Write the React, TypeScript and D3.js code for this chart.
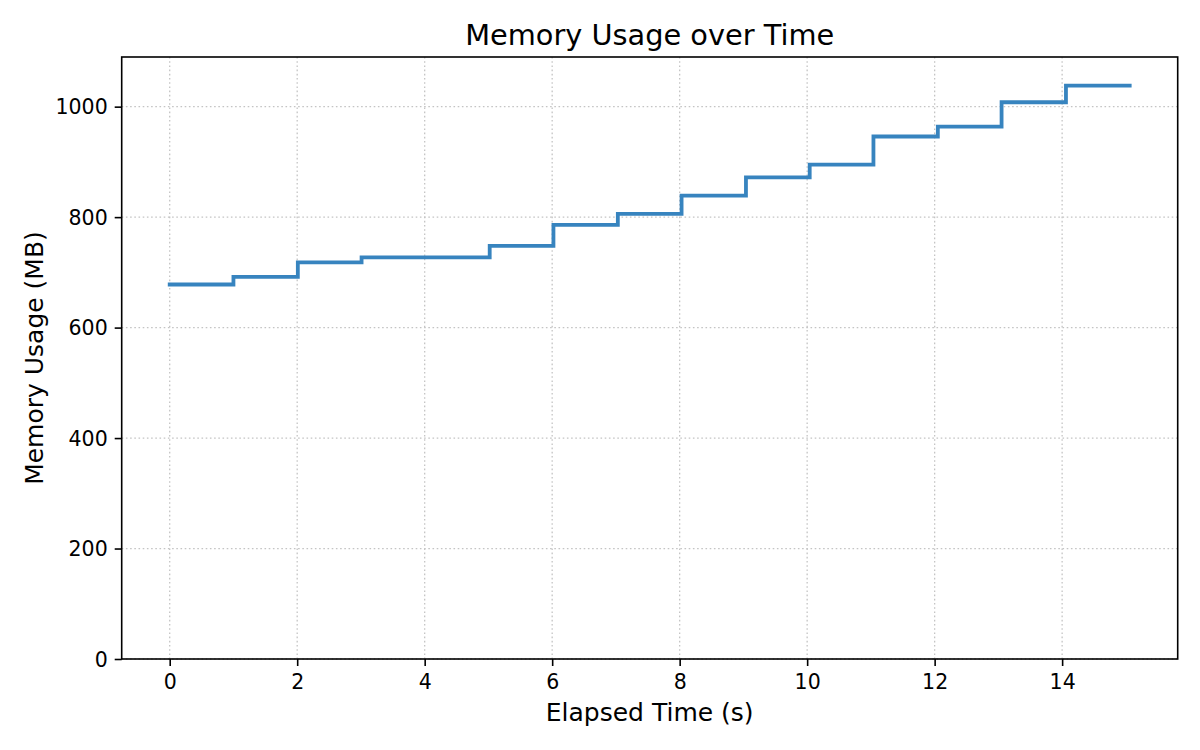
import React, { useRef, useEffect } from "react";
import * as d3 from "d3";

// elapsed time (s) of each sample and memory reading (MB)
const times = [0, 1.0, 2.01, 3.01, 4.02, 5.02, 6.02, 7.03, 8.03, 9.04, 10.04, 11.04, 12.05, 13.05, 14.06, 15.06];
const memory = [678, 692, 718, 727, 727, 748, 786, 806, 839, 872, 895, 946, 964, 1008, 1038, 1038];

const xTicks = [0, 2, 4, 6, 8, 10, 12, 14];
const yTicks = [0, 200, 400, 600, 800, 1000];

const title = "Memory Usage over Time";
const xLabel = "Elapsed Time (s)";
const yLabel = "Memory Usage (MB)";

const width = 1200;
const height = 750;
const margin = { top: 57, right: 22.3, bottom: 91, left: 121.7 };
const font = "DejaVu Sans, sans-serif";

const App: React.FC = () => {
  const gRef = useRef<SVGGElement | null>(null);

  useEffect(() => {
    if (!gRef.current) return;
    const g = d3.select(gRef.current);
    g.selectAll("*").remove();

    const innerWidth = width - margin.left - margin.right;
    const innerHeight = height - margin.top - margin.bottom;

    const xMin = d3.min(times)!;
    const xMax = d3.max(times)!;
    const pad = (xMax - xMin) * 0.05;

    const xScale = d3.scaleLinear().domain([xMin - pad, xMax + pad]).range([0, innerWidth]);
    const yScale = d3
      .scaleLinear()
      .domain([0, d3.max(memory)! * 1.05])
      .range([innerHeight, 0]);

    const chart = g.append("g").attr("transform", `translate(${margin.left},${margin.top})`);

    // dotted grid
    chart
      .selectAll(".vgrid")
      .data(xTicks)
      .join("line")
      .attr("class", "vgrid")
      .attr("x1", (d) => xScale(d))
      .attr("x2", (d) => xScale(d))
      .attr("y1", 0)
      .attr("y2", innerHeight)
      .attr("stroke", "#c4c4c4")
      .attr("stroke-width", 1.3)
      .attr("stroke-dasharray", "1.6,2.6");

    chart
      .selectAll(".hgrid")
      .data(yTicks)
      .join("line")
      .attr("class", "hgrid")
      .attr("x1", 0)
      .attr("x2", innerWidth)
      .attr("y1", (d) => yScale(d))
      .attr("y2", (d) => yScale(d))
      .attr("stroke", "#c4c4c4")
      .attr("stroke-width", 1.3)
      .attr("stroke-dasharray", "1.6,2.6");

    // step line
    const line = d3
      .line<number>()
      .x((d, i) => xScale(times[i]))
      .y((d) => yScale(d))
      .curve(d3.curveStepAfter);

    chart
      .append("path")
      .datum(memory)
      .attr("d", line)
      .attr("fill", "none")
      .attr("stroke", "#3784bf")
      .attr("stroke-width", 3.8)
      .attr("stroke-linecap", "square")
      .attr("stroke-linejoin", "miter");

    // axes
    const xAxis = d3.axisBottom(xScale).tickValues(xTicks).tickSize(7).tickPadding(7).tickSizeOuter(0);
    const yAxis = d3
      .axisLeft(yScale)
      .tickValues(yTicks)
      .tickFormat(d3.format("d"))
      .tickSize(7)
      .tickPadding(7)
      .tickSizeOuter(0);

    const xg = chart.append("g").attr("transform", `translate(0,${innerHeight})`).call(xAxis);
    const yg = chart.append("g").call(yAxis);

    [xg, yg].forEach((ax) => {
      ax.select(".domain").remove();
      ax.selectAll(".tick line").attr("stroke", "#000").attr("stroke-width", 1.6);
      ax.selectAll(".tick text")
        .attr("fill", "#000")
        .attr("font-family", font)
        .attr("font-size", 20.5);
    });
    xg.selectAll(".tick text").attr("dy", "0.78em");
    yg.selectAll(".tick text").attr("dy", "0.35em");

    // frame
    chart
      .append("rect")
      .attr("x", 0)
      .attr("y", 0)
      .attr("width", innerWidth)
      .attr("height", innerHeight)
      .attr("fill", "none")
      .attr("stroke", "#000")
      .attr("stroke-width", 1.6);

    // title and labels
    g.append("text")
      .attr("x", margin.left + innerWidth / 2)
      .attr("y", 45)
      .attr("text-anchor", "middle")
      .attr("font-family", font)
      .attr("font-size", 28.8)
      .text(title);

    g.append("text")
      .attr("x", margin.left + innerWidth / 2)
      .attr("y", 721)
      .attr("text-anchor", "middle")
      .attr("font-family", font)
      .attr("font-size", 25)
      .text(xLabel);

    g.append("text")
      .attr("transform", `translate(43,${margin.top + innerHeight / 2}) rotate(-90)`)
      .attr("text-anchor", "middle")
      .attr("font-family", font)
      .attr("font-size", 25)
      .text(yLabel);
  }, []);

  return (
    <svg
      width={width}
      height={height}
      style={{ position: "absolute", left: 0, top: 0, background: "#fff" }}
    >
      <g ref={gRef} />
    </svg>
  );
};

export default App;
